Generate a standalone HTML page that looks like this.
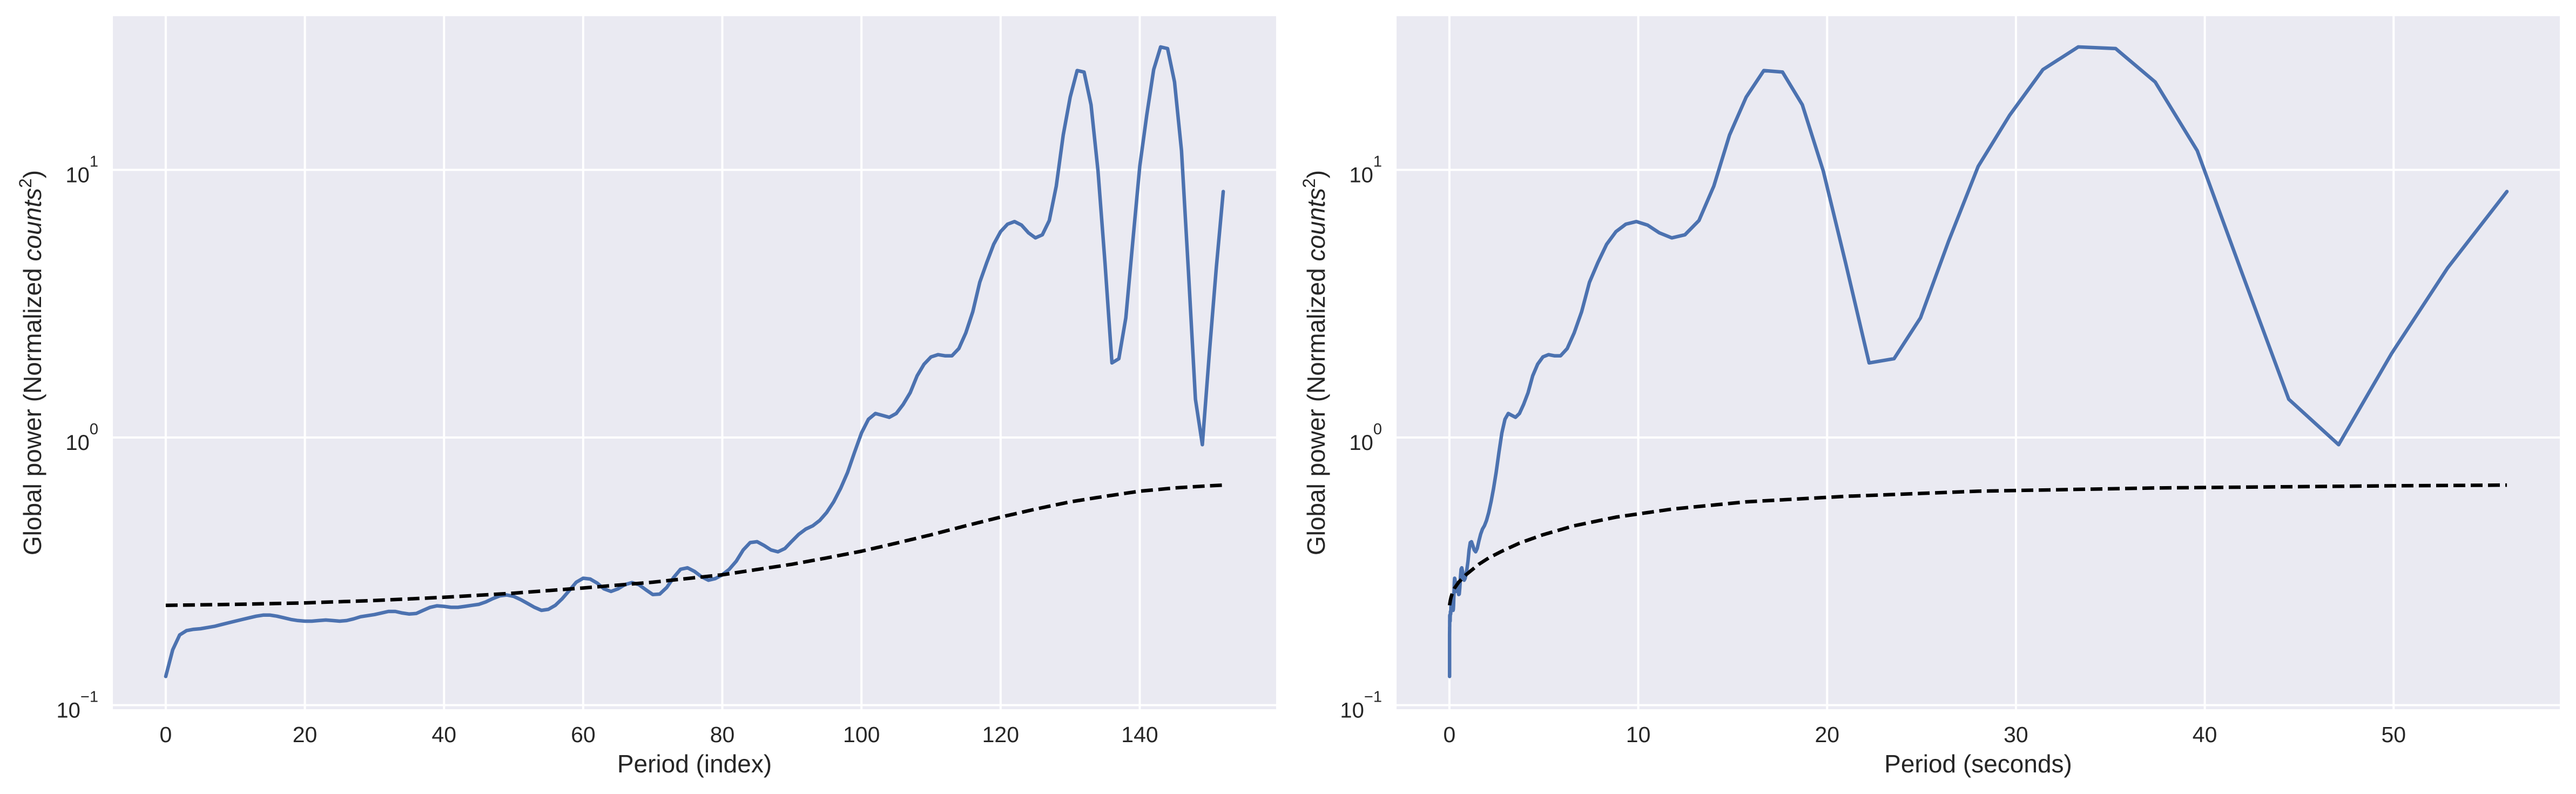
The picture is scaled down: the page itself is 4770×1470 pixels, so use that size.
<!DOCTYPE html>
<html><head><meta charset="utf-8"><style>
html,body{margin:0;padding:0;background:#fff}
svg{display:block}
text{font-family:"Liberation Sans",Arial,sans-serif;fill:#262626}
</style></head><body>
<svg id="fig" width="4770" height="1470" viewBox="0 0 4770 1470"></svg>
<script>
// Global wavelet power spectrum (index 0..152)
const power = [0.128,0.161,0.183,0.19,0.192,0.193,0.195,0.197,0.2,0.203,0.206,0.209,0.212,0.215,0.217,0.217,0.215,0.212,0.209,0.207,0.206,0.206,0.207,0.208,0.207,0.206,0.207,0.21,0.214,0.216,0.218,0.221,0.224,0.224,0.221,0.219,0.22,0.226,0.232,0.235,0.234,0.232,0.232,0.234,0.236,0.238,0.243,0.25,0.256,0.258,0.255,0.248,0.24,0.232,0.226,0.228,0.236,0.25,0.268,0.288,0.298,0.296,0.286,0.272,0.266,0.272,0.282,0.287,0.282,0.27,0.259,0.26,0.275,0.3,0.322,0.326,0.316,0.302,0.293,0.297,0.307,0.322,0.345,0.38,0.405,0.408,0.395,0.38,0.374,0.385,0.41,0.435,0.455,0.468,0.49,0.525,0.575,0.645,0.74,0.88,1.04,1.17,1.23,1.21,1.19,1.23,1.33,1.47,1.7,1.88,2.0,2.04,2.02,2.02,2.15,2.46,2.95,3.8,4.5,5.27,5.88,6.27,6.41,6.22,5.82,5.57,5.72,6.47,8.7,13.5,18.7,23.5,23.2,17.5,9.9,4.5,1.9,1.97,2.8,5.4,10.3,16,23.7,28.8,28.4,21.3,11.8,4.15,1.39,0.94,2.06,4.3,8.3];
// Significance level at selected indices
const signifIndex = [0,10,20,30,40,50,60,70,80,90,95,100,105,110,115,120,125,130,135,140,145,150,152];
const signifValue = [0.236,0.238,0.241,0.246,0.253,0.262,0.274,0.288,0.307,0.336,0.355,0.376,0.403,0.433,0.468,0.504,0.54,0.575,0.603,0.630,0.648,0.660,0.664];
// Period scale parameters: period = maxPeriod * 2^((i - lastIndex) * dj)
const maxPeriod = 56, lastIndex = 152, dj = 1/12;
const xTicksLeft = [0,20,40,60,80,100,120,140];
const xTicksRight = [0,10,20,30,40,50];
const yTickExp = [-1,0,1];

const NS = "http://www.w3.org/2000/svg";
const svg = document.getElementById('fig');
function el(tag, attrs, parent){const e=document.createElementNS(NS,tag);for(const k in attrs)e.setAttribute(k,attrs[k]);(parent||svg).appendChild(e);return e;}
function periodOf(i){return maxPeriod*Math.pow(2,(i-lastIndex)*dj);}

const plotTop=30, plotBottom=1313;
function yScale(v){return 810 - 495.5*Math.log10(v);}

function panel(name, left, right, xmin, xmax, xticks, xlabel, xOf){
  const g = el('g',{});
  
  
  const xs = v => left + (v - xmin)/(xmax - xmin)*(right-left);
  const bg = el('rect',{x:left,y:plotTop,width:right-left,height:plotBottom-plotTop,fill:'#EAEAF2'},g);
  
  
  xticks.forEach(t=>{
    const x=xs(t);
    const l=el('line',{x1:x,x2:x,y1:plotTop,y2:plotBottom,stroke:'#fff','stroke-width':4},g);
    
    
    const tx=el('text',{x:x,y:1374,'font-size':41,'text-anchor':'middle'},g);
    tx.textContent=t;
    
    
  });
  yTickExp.forEach(e=>{
    const y=yScale(Math.pow(10,e));
    const l=el('line',{x1:left,x2:right,y1:y,y2:y,stroke:'#fff','stroke-width':4},g);
    
    
    const tx=el('text',{x:left-27,y:y+23,'font-size':40,'text-anchor':'end'},g);
    const b=el('tspan',{},tx); b.textContent='10';
    const s=el('tspan',{dy:-29,'font-size':29},tx); s.textContent=(e<0?'\u2212':'')+Math.abs(e);
    
    
  });
  const pts = power.map((v,i)=>xs(xOf(i)).toFixed(1)+','+yScale(v).toFixed(1)).join(' ');
  const pl=el('polyline',{points:pts,fill:'none',stroke:'#4C72B0','stroke-width':6.5,'stroke-linejoin':'round','stroke-linecap':'round'},g);
  
  
  const spts = signifIndex.map((idx,k)=>xs(xOf(idx)).toFixed(1)+','+yScale(signifValue[k]).toFixed(1)).join(' ');
  const sl=el('polyline',{points:spts,fill:'none',stroke:'#000','stroke-width':6.5,'stroke-dasharray':'22,10','stroke-linejoin':'round'},g);
  
  
  const xl=el('text',{x:(left+right)/2,y:1430,'font-size':46,'text-anchor':'middle'},g);
  xl.textContent=xlabel;
  
  
  const yx=left-133, yy=(plotTop+plotBottom)/2;
  const yl=el('text',{x:yx,y:yy,'font-size':46,'text-anchor':'middle',transform:'rotate(-90 '+yx+' '+yy+')'},g);
  const t1=el('tspan',{},yl); t1.textContent='Global power (Normalized ';
  const t2=el('tspan',{'font-style':'italic'},yl); t2.textContent='counts';
  const t3=el('tspan',{dy:-18,'font-size':32},yl); t3.textContent='2';
  const t4=el('tspan',{dy:18},yl); t4.textContent=')';
  
  
}
panel('left-panel', 209, 2363, -7.6, 159.6, xTicksLeft, 'Period (index)', i=>i);
panel('right-panel', 2586, 4740, -2.8, 58.8, xTicksRight, 'Period (seconds)', i=>periodOf(i));
</script>
</body></html>
